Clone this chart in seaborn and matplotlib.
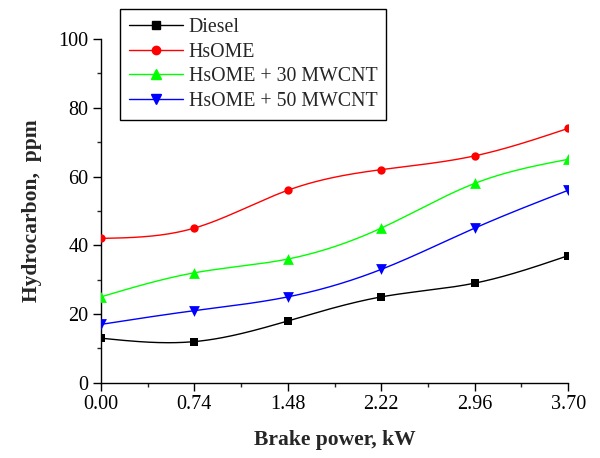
import numpy as np
import pandas as pd
import matplotlib
matplotlib.use("Agg")
import matplotlib.pyplot as plt
from matplotlib.lines import Line2D
from matplotlib.ticker import MultipleLocator, FixedLocator
import seaborn as sns

power = [0.00, 0.74, 1.48, 2.22, 2.96, 3.70]
x_ticks = ["0.00", "0.74", "1.48", "2.22", "2.96", "3.70"]
diesel = [13, 12, 18, 25, 29, 37]
hsome = [42, 45, 56, 62, 66, 74]
hsome30 = [25, 32, 36, 45, 58, 65]
hsome50 = [17, 21, 25, 33, 45, 56]

names = ["Diesel", "HsOME", "HsOME + 30 MWCNT", "HsOME + 50 MWCNT"]
series = [diesel, hsome, hsome30, hsome50]
colors = ["black", "#ff0000", "#00ff00", "#0000ff"]
markers = ["s", "o", "^", "v"]
msizes = [28, 36, 60, 60]

df = pd.DataFrame({
    "power": power * 4,
    "hc": sum(series, []),
    "fuel": sum([[n] * len(power) for n in names], []),
})


def natural_spline(x, y, xs):
    x = np.asarray(x, float)
    y = np.asarray(y, float)
    n = len(x)
    h = np.diff(x)
    A = np.zeros((n, n))
    b = np.zeros(n)
    A[0, 0] = 1
    A[-1, -1] = 1
    for i in range(1, n - 1):
        A[i, i - 1] = h[i - 1]
        A[i, i] = 2 * (h[i - 1] + h[i])
        A[i, i + 1] = h[i]
        b[i] = 3 * ((y[i + 1] - y[i]) / h[i] - (y[i] - y[i - 1]) / h[i - 1])
    c = np.linalg.solve(A, b)
    out = np.empty_like(xs)
    for k, xv in enumerate(xs):
        i = min(max(np.searchsorted(x, xv) - 1, 0), n - 2)
        bi = (y[i + 1] - y[i]) / h[i] - h[i] * (2 * c[i] + c[i + 1]) / 3
        di = (c[i + 1] - c[i]) / (3 * h[i])
        t = xv - x[i]
        out[k] = y[i] + bi * t + c[i] * t ** 2 + di * t ** 3
    return out


sns.set_style("ticks")
plt.rcParams["font.family"] = ["Liberation Serif", "DejaVu Serif"]
plt.rcParams["mathtext.fontset"] = "stix"

fig = plt.figure(figsize=(6.0, 4.58), dpi=100)
ax = fig.add_axes([0.168, 0.164, 0.779, 0.751])

xs = np.linspace(power[0], power[-1], 300)
for name, vals, col in zip(names, series, colors):
    ax.plot(xs, natural_spline(power, vals, xs), color=col, lw=1.0, zorder=2)

for name, col, mk, ms in zip(names, colors, markers, msizes):
    sub = df[df["fuel"] == name]
    sns.scatterplot(data=sub, x="power", y="hc", ax=ax, color=col, marker=mk,
                    s=ms, edgecolor=col, linewidth=0, zorder=3, legend=False)

ax.set_xlim(0, 3.70)
ax.set_ylim(0, 100)
ax.xaxis.set_major_locator(FixedLocator(power))
ax.set_xticklabels(x_ticks)
ax.xaxis.set_minor_locator(FixedLocator([0.37, 1.11, 1.85, 2.59, 3.33]))
ax.yaxis.set_major_locator(MultipleLocator(20))
ax.yaxis.set_minor_locator(MultipleLocator(10))
ax.tick_params(which="major", direction="out", length=6, width=1, labelsize=14.5,
               colors="black", pad=3)
ax.tick_params(which="minor", direction="out", length=3, width=1)
for s in ["top", "right"]:
    ax.spines[s].set_visible(False)
for s in ["left", "bottom"]:
    ax.spines[s].set_linewidth(1.0)
    ax.spines[s].set_color("black")

ax.set_xlabel("Brake power, kW", fontsize=15.5, fontweight="bold", labelpad=11)
ax.set_ylabel("Hydrocarbon,  ppm", fontsize=15.5, fontweight="bold", labelpad=12)

handles = [Line2D([0], [0], color=c, lw=1.0, marker=m, markersize=7.5 if m in "^v" else 6,
                  markerfacecolor=c, markeredgecolor=c) for c, m in zip(colors, markers)]
leg = fig.legend(handles, names, loc="upper left", bbox_to_anchor=(0.2, 0.98),
                 borderaxespad=0, fontsize=14.3, frameon=True, fancybox=False,
                 edgecolor="black", framealpha=1, handlelength=2.7,
                 handletextpad=0.3, labelspacing=0.28, borderpad=0.45)
leg.get_frame().set_linewidth(1.0)

fig.savefig("out.png", dpi=100)
